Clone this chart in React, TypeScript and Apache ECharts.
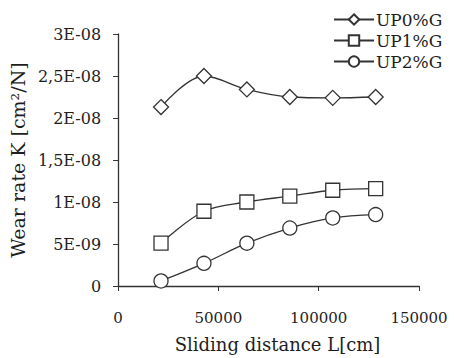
import React, { useEffect, useRef } from "react";
import * as echarts from "echarts";

const distances = [21400, 42800, 64200, 85600, 107000, 128400];
const up0 = [2.13e-8, 2.5e-8, 2.34e-8, 2.25e-8, 2.24e-8, 2.25e-8];
const up1 = [0.51e-8, 0.89e-8, 1.0e-8, 1.07e-8, 1.14e-8, 1.16e-8];
const up2 = [0.06e-8, 0.27e-8, 0.51e-8, 0.69e-8, 0.81e-8, 0.85e-8];
const yTickLabels: Record<string, string> = {
  "0": "0",
  "5e-9": "5E-09",
  "1e-8": "1E-08",
  "1.5e-8": "1,5E-08",
  "2e-8": "2E-08",
  "2.5e-8": "2,5E-08",
  "3e-8": "3E-08",
};

const FONT = "DejaVu Serif";
const INK = "#333";
const TXT = "#1e1e1e";

export default function App() {
  const ref = useRef<HTMLDivElement>(null);
  useEffect(() => {
    if (!ref.current) return;
    const chart = echarts.init(ref.current, null, { renderer: "svg" });
    const mk = (name: string, data: number[], symbol: string, size: number) => ({
      name,
      type: "line",
      smooth: 0.35,
      data: distances.map((d, i) => [d, data[i]]),
      symbol,
      symbolSize: size,
      lineStyle: { color: INK, width: 1.3 },
      itemStyle: { color: "#fff", borderColor: INK, borderWidth: 1.3 },
    });
    chart.setOption({
      animation: false,
      textStyle: { fontFamily: FONT },
      grid: { left: 117, right: 36, top: 34, bottom: 70, containLabel: false },
      legend: {
        orient: "vertical",
        left: 328,
        top: 6,
        itemWidth: 40,
        itemHeight: 13,
        itemGap: 4,
        textStyle: { fontFamily: FONT, fontSize: 17, color: TXT, padding: [0, 0, 0, -3] },
        data: ["UP0%G", "UP1%G", "UP2%G"],
      },
      xAxis: {
        type: "value",
        min: 0,
        max: 150000,
        interval: 50000,
        name: "Sliding distance L[cm]",
        nameLocation: "middle",
        nameGap: 49,
        nameTextStyle: { fontFamily: FONT, fontSize: 18, color: TXT, padding: [0, 0, 0, 18] },
        splitLine: { show: false },
        axisLine: { lineStyle: { color: INK, width: 1.3 } },
        axisTick: { lineStyle: { color: INK }, length: 5 },
        axisLabel: {
          margin: 24,
          fontFamily: FONT,
          fontSize: 15,
          color: TXT,
          formatter: (v: number) => String(v),
        },
      },
      yAxis: {
        type: "value",
        min: 0,
        max: 3e-8,
        interval: 5e-9,
        name: "Wear rate K [cm²/N]",
        nameLocation: "middle",
        nameGap: 82,
        nameTextStyle: { fontFamily: FONT, fontSize: 19, color: TXT },
        splitLine: { show: false },
        axisLine: { show: true, lineStyle: { color: INK, width: 1.3 } },
        axisTick: { show: true, lineStyle: { color: INK }, length: 5 },
        axisLabel: {
          margin: 17,
          fontFamily: FONT,
          fontSize: 16,
          color: TXT,
          formatter: (v: number) => {
            const key = String(Number(v.toPrecision(3)));
            return yTickLabels[key] ?? String(v);
          },
        },
      },
      series: [
        mk("UP0%G", up0, "diamond", 15),
        mk("UP1%G", up1, "rect", 14),
        mk("UP2%G", up2, "circle", 14),
      ],
    });
    return () => chart.dispose();
  }, []);
  return <div ref={ref} style={{ width: 455, height: 358, position: "absolute", left: 0, top: 0 }} />;
}
